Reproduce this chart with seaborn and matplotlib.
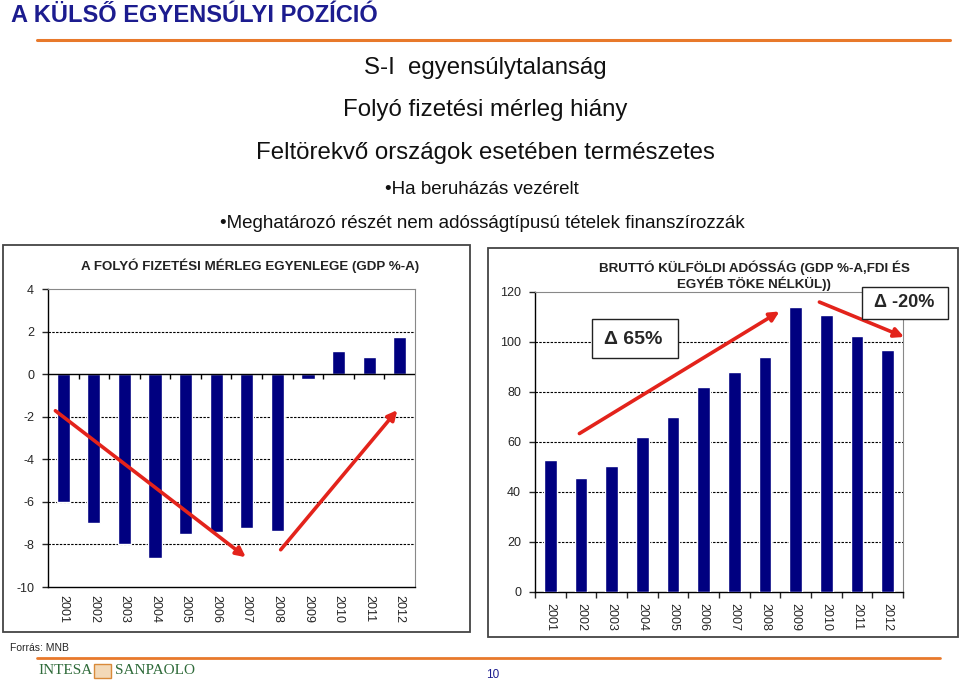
import numpy as np
import pandas as pd
import matplotlib
matplotlib.use("Agg")
import matplotlib.pyplot as plt
from matplotlib.patches import Rectangle
from matplotlib.lines import Line2D
import seaborn as sns

# ---------------- data ----------------
years = ["2001", "2002", "2003", "2004", "2005", "2006",
         "2007", "2008", "2009", "2010", "2011", "2012"]
current_account = [-6.0, -7.0, -8.0, -8.65, -7.5, -7.4,
                   -7.25, -7.35, -0.25, 1.1, 0.8, 1.75]
gross_debt = [53, 45.5, 50.5, 62, 70, 82, 88, 94, 114, 111, 102.5, 97]

main_title = "A KÜLSŐ EGYENSÚLYI POZÍCIÓ"
bullets_big = ["S-I  egyensúlytalanság",
               "Folyó fizetési mérleg hiány",
               "Feltörekvő országok esetében természetes"]
bullets_small = ["•Ha beruházás vezérelt",
                 "•Meghatározó részét nem adósságtípusú tételek finanszírozzák"]
left_title = "A FOLYÓ FIZETÉSI MÉRLEG EGYENLEGE (GDP %-A)"
right_title = "BRUTTÓ KÜLFÖLDI ADÓSSÁG (GDP %-A,FDI ÉS\nEGYÉB TÖKE NÉLKÜL))"
left_yticks = list(range(-10, 5, 2))
right_yticks = list(range(0, 121, 20))

# ---------------- style ----------------
sns.set_style("white")
plt.rcParams['font.family'] = ['Liberation Sans', 'DejaVu Sans']
plt.rcParams['axes.unicode_minus'] = False

W, H = 960, 685
fig = plt.figure(figsize=(9.6, 6.85), dpi=100)
fig.patch.set_facecolor("white")

def fx(x):
    return x / W

def fy(y):
    return 1 - y / H

NAVY = "#000080"
ORANGE = "#E8792B"
RED = "#E3231B"
BLUE_T = "#1C1C8F"

# header
fig.text(fx(11), fy(15), main_title, fontsize=17, fontweight="bold",
         color=BLUE_T, ha="left", va="center")
fig.add_artist(Line2D([fx(37), fx(950)], [fy(40), fy(40)], color=ORANGE, lw=2.2,
                      transform=fig.transFigure))
for txt, y in zip(bullets_big, [68, 110, 153]):
    fig.text(fx(485), fy(y), txt, fontsize=17.3, ha="center", va="center", color="#111111")
for txt, y in zip(bullets_small, [190, 224]):
    fig.text(fx(482), fy(y), txt, fontsize=13.5, ha="center", va="center", color="#111111")

# panel borders
fig.add_artist(Rectangle((fx(3), fy(632)), (470 - 3) / W, (632 - 245) / H,
                         transform=fig.transFigure, fill=False, ec="#444444", lw=1.3))
fig.add_artist(Rectangle((fx(488), fy(637)), (958 - 488) / W, (637 - 248) / H,
                         transform=fig.transFigure, fill=False, ec="#444444", lw=1.3))

DASH = (0, (2.2, 1.2))

# ---------------- left chart ----------------
ax1 = fig.add_axes([fx(48), fy(587), (415 - 48) / W, (587 - 289) / H])
df1 = pd.DataFrame({"year": years, "val": current_account})
sns.barplot(data=df1, x="year", y="val", color=NAVY, saturation=1, width=0.43,
            ax=ax1, zorder=3)
ax1.set_xlim(-0.5, len(years) - 0.5)
ax1.set_ylim(-10, 4)
ax1.set_yticks(left_yticks)
ax1.set_xlabel("")
ax1.set_ylabel("")
for y in [-8, -6, -4, -2, 2]:
    ax1.axhline(y, color="black", lw=0.8, ls=DASH, zorder=1)
ax1.axhline(0, color="black", lw=1.0, zorder=4)
ax1.vlines(np.arange(0.5, len(years) - 0.5, 1), -0.22, 0, color="black", lw=1.0, zorder=4)
for s in ["top", "right"]:
    ax1.spines[s].set_color("#888888")
    ax1.spines[s].set_linestyle((0, (1, 1)))
    ax1.spines[s].set_linewidth(0.8)
for s in ["left", "bottom"]:
    ax1.spines[s].set_color("black")
    ax1.spines[s].set_linewidth(1.0)
ax1.tick_params(axis="x", length=0, pad=6, labelsize=9, labelrotation=-90)
ax1.tick_params(axis="y", length=4, width=1, direction="out", left=True,
                pad=6, labelsize=9)
ax1.set_title(left_title, fontsize=9.6, fontweight="bold", color="#222222",
              x=0.55, pad=14)
ax1.annotate("", xy=(6.04, -8.68), xytext=(-0.33, -1.64),
             arrowprops=dict(arrowstyle="-|>", color=RED, lw=2.6, mutation_scale=14),
             annotation_clip=False, zorder=6)
ax1.annotate("", xy=(10.98, -1.59), xytext=(7.05, -8.35),
             arrowprops=dict(arrowstyle="-|>", color=RED, lw=2.6, mutation_scale=14),
             annotation_clip=False, zorder=6)

# ---------------- right chart ----------------
ax2 = fig.add_axes([fx(535), fy(592), (903 - 535) / W, (592 - 292) / H])
df2 = pd.DataFrame({"year": years, "val": gross_debt})
sns.barplot(data=df2, x="year", y="val", color=NAVY, saturation=1, width=0.41,
            ax=ax2, zorder=3)
ax2.set_xlim(-0.5, len(years) - 0.5)
ax2.set_ylim(0, 120)
ax2.set_yticks(right_yticks)
ax2.set_xlabel("")
ax2.set_ylabel("")
for y in [20, 40, 60, 80, 100]:
    ax2.axhline(y, color="black", lw=0.8, ls=DASH, zorder=1)
for s in ["top", "right"]:
    ax2.spines[s].set_color("#888888")
    ax2.spines[s].set_linestyle((0, (1, 1)))
    ax2.spines[s].set_linewidth(0.8)
for s in ["left", "bottom"]:
    ax2.spines[s].set_color("black")
    ax2.spines[s].set_linewidth(1.0)
ax2.set_xticks(np.arange(-0.5, len(years), 1), minor=True)
ax2.tick_params(axis="x", which="major", length=0, pad=8, labelsize=9, labelrotation=-90)
ax2.tick_params(axis="x", which="minor", length=4, width=1, direction="out", bottom=True)
ax2.tick_params(axis="y", length=4, width=1, direction="out", left=True,
                pad=6, labelsize=9)
fig.text(fx(754), fy(276), right_title, fontsize=9.6, fontweight="bold",
         color="#222222", ha="center", va="center", linespacing=1.1)
ax2.annotate("", xy=(7.55, 112.8), xytext=(0.87, 62.8),
             arrowprops=dict(arrowstyle="-|>", color=RED, lw=2.6, mutation_scale=14),
             annotation_clip=False, zorder=6)
ax2.annotate("", xy=(11.62, 101.6), xytext=(8.69, 116.4),
             arrowprops=dict(arrowstyle="-|>", color=RED, lw=2.6, mutation_scale=14),
             annotation_clip=False, zorder=6)

# delta boxes
fig.add_artist(Rectangle((fx(592), fy(358)), (678 - 592) / W, (358 - 319) / H,
                         transform=fig.transFigure, fc="white", ec="#222222", lw=1.0, zorder=7))
fig.text(fx(633), fy(339), "Δ 65%", fontsize=14, fontweight="bold",
         ha="center", va="center", zorder=8)
fig.add_artist(Rectangle((fx(862), fy(319)), (948 - 862) / W, (319 - 287) / H,
                         transform=fig.transFigure, fc="white", ec="#222222", lw=1.0, zorder=7))
fig.text(fx(904), fy(303), "Δ -20%", fontsize=13, fontweight="bold",
         ha="center", va="center", zorder=8)

# footer
fig.text(fx(10), fy(648), "Forrás: MNB", fontsize=7.5, ha="left", va="center")
fig.add_artist(Line2D([fx(37), fx(940)], [fy(658), fy(658)], color=ORANGE, lw=2.0,
                      transform=fig.transFigure))
GREEN = "#2F6B3A"
fig.text(fx(38), fy(671), "INTESA", fontsize=11, family="Liberation Serif",
         color=GREEN, ha="left", va="center")
fig.add_artist(Rectangle((fx(94), fy(678)), 17 / W, 14 / H, transform=fig.transFigure,
                         fc="#F3D9B8", ec="#D98A3A", lw=1.0))
fig.text(fx(115), fy(671), "SANPAOLO", fontsize=11, family="Liberation Serif",
         color=GREEN, ha="left", va="center")
fig.text(fx(493), fy(675), "10", fontsize=8.5, color=BLUE_T, ha="center", va="center")

fig.savefig("out.png", dpi=100)
